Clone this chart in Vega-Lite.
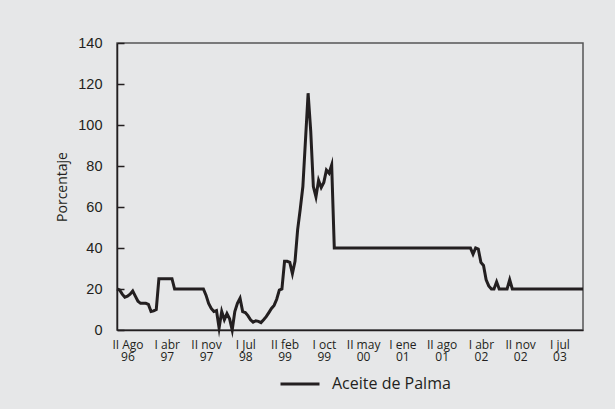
{
  "$schema": "https://vega.github.io/schema/vega-lite/v6.json",
  "autosize": {"type": "none"},
  "width": 466,
  "height": 287,
  "padding": {"left": 117, "top": 43, "right": 32, "bottom": 79},
  "background": "#e6e7e8",
  "config": {
    "view": {"stroke": "#555555", "strokeWidth": 1.5},
    "axis": {"grid": false, "domainColor": "#231f20", "domainWidth": 1.5, "tickColor": "#231f20"}
  },
  "data": {
    "values": [
      {"p": 0, "v": 20}, {"p": 1, "v": 19.5}, {"p": 2, "v": 17.5}, {"p": 3, "v": 16}, {"p": 4, "v": 16.5},
      {"p": 5, "v": 17.5}, {"p": 6, "v": 19}, {"p": 7, "v": 16.5}, {"p": 8, "v": 14}, {"p": 9, "v": 13},
      {"p": 10, "v": 13}, {"p": 11, "v": 13}, {"p": 12, "v": 12.5}, {"p": 13, "v": 9}, {"p": 14, "v": 9.3},
      {"p": 15, "v": 10}, {"p": 16, "v": 25}, {"p": 21, "v": 25}, {"p": 22, "v": 20}, {"p": 33, "v": 20},
      {"p": 34, "v": 17}, {"p": 35, "v": 13}, {"p": 36, "v": 10.5}, {"p": 37, "v": 9}, {"p": 38, "v": 9.5},
      {"p": 39, "v": 1}, {"p": 40, "v": 9}, {"p": 41, "v": 5}, {"p": 42, "v": 8}, {"p": 43, "v": 5.5},
      {"p": 44, "v": 0}, {"p": 45, "v": 9}, {"p": 46, "v": 13}, {"p": 47, "v": 15.5}, {"p": 48, "v": 9},
      {"p": 49, "v": 8.5}, {"p": 50, "v": 7}, {"p": 51, "v": 5}, {"p": 52, "v": 3.8}, {"p": 53, "v": 4.5},
      {"p": 54, "v": 4.2}, {"p": 55, "v": 3.6}, {"p": 56, "v": 5}, {"p": 57, "v": 6.5}, {"p": 58, "v": 8.5},
      {"p": 59, "v": 10.5}, {"p": 60, "v": 12}, {"p": 61, "v": 15}, {"p": 62, "v": 19.5}, {"p": 63, "v": 20},
      {"p": 64, "v": 33.5}, {"p": 65, "v": 33.5}, {"p": 66, "v": 33}, {"p": 67, "v": 27.5}, {"p": 68, "v": 33.5},
      {"p": 69, "v": 49}, {"p": 70, "v": 59}, {"p": 71, "v": 70}, {"p": 73, "v": 115.5}, {"p": 74, "v": 97},
      {"p": 75, "v": 70}, {"p": 76, "v": 65}, {"p": 77, "v": 73}, {"p": 78, "v": 69.5}, {"p": 79, "v": 72},
      {"p": 80, "v": 78}, {"p": 81, "v": 76.5}, {"p": 82, "v": 80.5}, {"p": 83, "v": 40}, {"p": 135, "v": 40},
      {"p": 136, "v": 37}, {"p": 137, "v": 40}, {"p": 138, "v": 39.5}, {"p": 139, "v": 33}, {"p": 140, "v": 31.5},
      {"p": 141, "v": 24.5}, {"p": 142, "v": 21.5}, {"p": 143, "v": 20}, {"p": 144, "v": 20}, {"p": 145, "v": 23.5},
      {"p": 146, "v": 20}, {"p": 149, "v": 20}, {"p": 150, "v": 24.5}, {"p": 151, "v": 20}, {"p": 178, "v": 20}
    ]
  },
  "mark": {"type": "line", "strokeWidth": 3, "strokeJoin": "miter", "strokeMiterLimit": 10},
  "encoding": {
    "x": {
      "field": "p",
      "type": "quantitative",
      "scale": {"domain": [0, 178], "nice": false, "zero": false},
      "axis": {
        "title": null,
        "values": [4, 19, 34, 49, 64, 79, 94, 109, 124, 139, 154, 169],
        "ticks": false,
        "labelExpr": "[['II Ago','96'],['I abr','97'],['II nov','97'],['I Jul','98'],['II feb','99'],['I oct','99'],['II may','00'],['I ene','01'],['II ago','01'],['I abr','02'],['II nov','02'],['I jul','03']][round((datum.value-4)/15)]",
        "labelFont": "Open Sans",
        "labelFontSize": 12,
        "labelLineHeight": 12,
        "labelColor": "#231f20",
        "labelPadding": 9,
        "labelFlush": false,
        "labelOverlap": false
      }
    },
    "y": {
      "field": "v",
      "type": "quantitative",
      "scale": {"domain": [0, 140], "nice": false},
      "axis": {
        "title": "Porcentaje",
        "values": [0, 20, 40, 60, 80, 100, 120, 140],
        "ticks": true,
        "tickSize": -7,
        "tickWidth": 1.5,
        "labelFont": "Liberation Sans",
        "labelFontSize": 14.5,
        "labelColor": "#231f20",
        "labelPadding": 22,
        "titleFont": "Open Sans",
        "titleFontSize": 14,
        "titleFontWeight": "normal",
        "titleColor": "#231f20",
        "titlePadding": 8
      }
    },
    "color": {
      "datum": "Aceite de Palma",
      "type": "nominal",
      "scale": {"range": ["#231f20"]},
      "legend": {
        "title": null,
        "orient": "none",
        "legendX": 162,
        "legendY": 320,
        "direction": "horizontal",
        "symbolType": "stroke",
        "symbolSize": 1521,
        "symbolStrokeWidth": 3,
        "labelFont": "Open Sans",
        "labelFontSize": 16,
        "labelColor": "#231f20",
        "labelOffset": 11
      }
    }
  }
}
